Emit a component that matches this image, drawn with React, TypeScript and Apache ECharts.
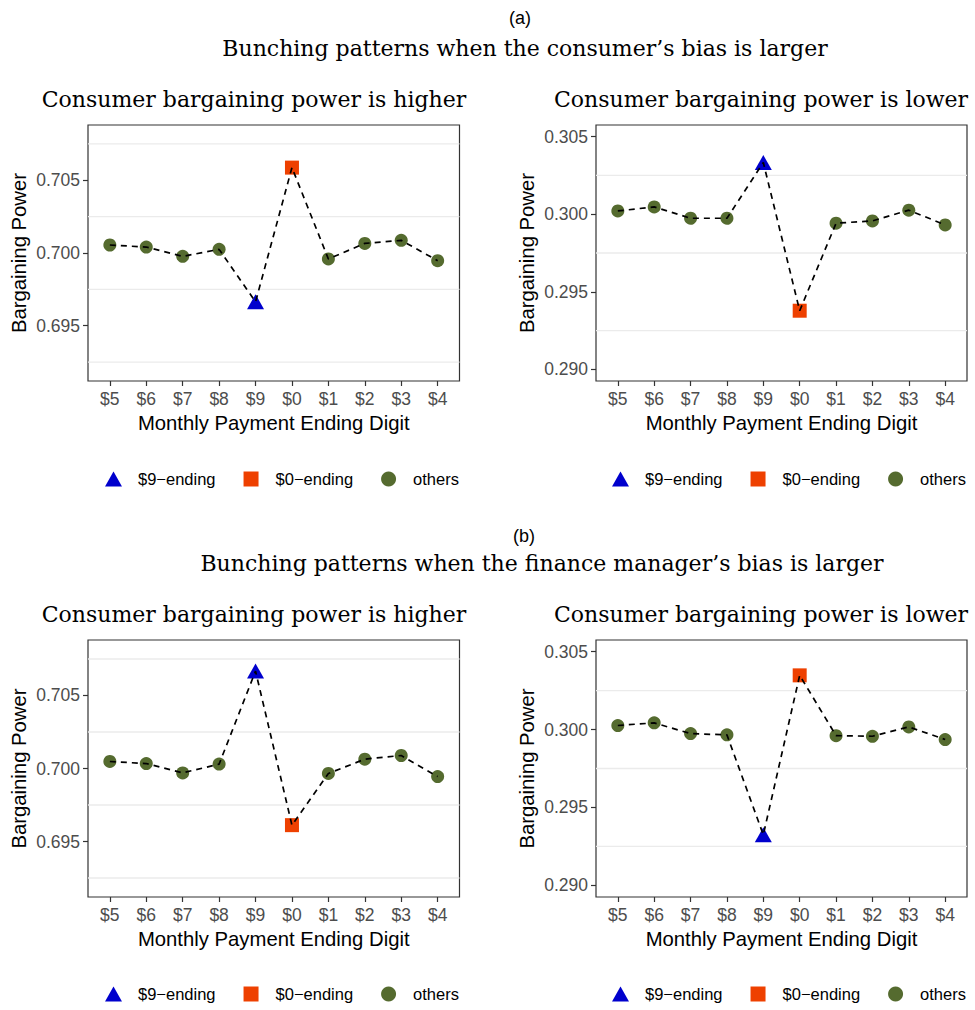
import React, { useEffect, useRef } from 'react';
import * as echarts from 'echarts';

// ---- data ----
const digits = ['$5', '$6', '$7', '$8', '$9', '$0', '$1', '$2', '$3', '$4'];
const consumerBiasHigherPower = [0.70055, 0.70041, 0.69977, 0.70025, 0.69664, 0.70587, 0.69959, 0.70066, 0.70087, 0.69947];
const consumerBiasLowerPower = [0.30021, 0.30047, 0.29974, 0.29974, 0.30333, 0.29378, 0.29942, 0.29957, 0.30026, 0.29931];
const managerBiasHigherPower = [0.70048, 0.70034, 0.6997, 0.7003, 0.70667, 0.69612, 0.69966, 0.70064, 0.70089, 0.69945];
const managerBiasLowerPower = [0.30026, 0.30043, 0.29974, 0.29966, 0.29324, 0.30348, 0.29961, 0.29957, 0.30017, 0.29936];
const highTicks = [0.695, 0.7, 0.705];
const lowTicks = [0.29, 0.295, 0.3, 0.305];
const highMinorGrid = [0.6925, 0.6975, 0.7025, 0.7075];
const lowMinorGrid = [0.2925, 0.2975, 0.3025];
const highLimits = [0.6912, 0.7088];
const lowLimits = [0.28925, 0.30575];
const xLimits = [-0.6, 9.6];
const groupNames = ['$9\u2212ending', '$0\u2212ending', 'others'];
const groupColors = ['#0000CD', '#EE4000', '#556B2F'];
const sectionLabels = ['(a)', '(b)'];
const sectionTitles = [
  'Bunching patterns when the consumer\u2019s bias is larger',
  'Bunching patterns when the finance manager\u2019s bias is larger',
];
const panelTitles = ['Consumer bargaining power is higher', 'Consumer bargaining power is lower'];
const yTitle = 'Bargaining Power';
const xTitle = 'Monthly Payment Ending Digit';

const SANS = '"Liberation Sans", Arial, Helvetica, sans-serif';
const SERIF = '"DejaVu Serif", serif';

const panels = [
  { values: consumerBiasHigherPower, ticks: highTicks, minor: highMinorGrid, limits: highLimits, left: 88, top: 125, width: 371.5, height: 256, legendLeft: 100, legendTop: 465.5 },
  { values: consumerBiasLowerPower, ticks: lowTicks, minor: lowMinorGrid, limits: lowLimits, left: 596, top: 125, width: 371, height: 256, legendLeft: 607, legendTop: 465.5 },
  { values: managerBiasHigherPower, ticks: highTicks, minor: highMinorGrid, limits: highLimits, left: 88, top: 640, width: 371.5, height: 257, legendLeft: 100, legendTop: 980.5 },
  { values: managerBiasLowerPower, ticks: lowTicks, minor: lowMinorGrid, limits: lowLimits, left: 596, top: 640, width: 371, height: 257, legendLeft: 607, legendTop: 980.5 },
];

function buildOption() {
  const idx9 = digits.indexOf('$9');
  const idx0 = digits.indexOf('$0');
  const tickIdx = digits.map((_, i) => i);
  const grid: any[] = [];
  const xAxis: any[] = [];
  const yAxis: any[] = [];
  const series: any[] = [];
  const legend: any[] = [];

  panels.forEach((p, k) => {
    grid.push({
      left: p.left, top: p.top, width: p.width, height: p.height,
      show: true, borderColor: '#333333', borderWidth: 1.2, backgroundColor: 'transparent',
    });
    xAxis.push({
      type: 'value', gridIndex: k, min: xLimits[0], max: xLimits[1],
      axisLine: { show: false, onZero: false },
      axisTick: { show: true, customValues: tickIdx, length: 5, lineStyle: { color: '#333333', width: 1.2 } },
      axisLabel: {
        customValues: tickIdx, formatter: (v: number) => digits[Math.round(v)],
        color: '#4D4D4D', fontSize: 17.5, fontFamily: SANS, margin: 9,
      },
      splitLine: { show: false },
      name: xTitle, nameLocation: 'middle', nameGap: 32,
      nameTextStyle: { fontSize: 20.3, color: '#000', fontFamily: SANS },
    });
    yAxis.push({
      type: 'value', gridIndex: k, min: p.limits[0], max: p.limits[1],
      axisLine: { show: false, onZero: false },
      axisTick: { show: true, customValues: p.ticks, length: 5, lineStyle: { color: '#333333', width: 1.2 } },
      axisLabel: {
        customValues: p.ticks, formatter: (v: number) => v.toFixed(3),
        color: '#4D4D4D', fontSize: 17.5, fontFamily: SANS, margin: 8,
      },
      splitLine: { show: false },
      name: yTitle, nameLocation: 'middle', nameGap: 59, nameRotate: 90,
      nameTextStyle: { fontSize: 20.3, color: '#000', fontFamily: SANS },
    });
    // minor grid lines (one horizontal line per minor break, spanning the x extent)
    p.minor.forEach((y) => {
      series.push({
        type: 'line', xAxisIndex: k, yAxisIndex: k, z: 1, silent: true,
        symbol: 'none',
        lineStyle: { color: '#EBEBEB', width: 1.3, type: 'solid' },
        data: [[xLimits[0], y], [xLimits[1], y]],
      });
    });
    series.push({
      name: groupNames[0], type: 'scatter', xAxisIndex: k, yAxisIndex: k, z: 3,
      symbol: 'triangle', symbolSize: [17, 15],
      itemStyle: { color: groupColors[0], opacity: 1 },
      data: [[idx9, p.values[idx9]]],
    });
    series.push({
      name: groupNames[1], type: 'scatter', xAxisIndex: k, yAxisIndex: k, z: 3,
      symbol: 'rect', symbolSize: 14,
      itemStyle: { color: groupColors[1], opacity: 1 },
      data: [[idx0, p.values[idx0]]],
    });
    series.push({
      name: groupNames[2], type: 'scatter', xAxisIndex: k, yAxisIndex: k, z: 3,
      symbol: 'circle', symbolSize: 13,
      itemStyle: { color: groupColors[2], opacity: 1 },
      data: p.values.map((v, i) => [i, v]).filter((d) => d[0] !== idx9 && d[0] !== idx0),
    });
    series.push({
      type: 'line', xAxisIndex: k, yAxisIndex: k, z: 4, silent: true,
      symbol: 'none',
      lineStyle: { color: '#000', width: 1.7, type: [6, 5] },
      data: p.values.map((v, i) => [i, v]),
    });
    legend.push({
      left: p.legendLeft, top: p.legendTop, orient: 'horizontal',
      itemWidth: 17, itemHeight: 15, itemGap: 28, selectedMode: false,
      textStyle: { fontSize: 16.5, color: '#000', fontFamily: SANS, padding: [0, 0, 0, 11] },
      data: [
        { name: groupNames[0], icon: 'triangle' },
        { name: groupNames[1], icon: 'path://M0,0L10,0L10,10L0,10Z' },
        { name: groupNames[2], icon: 'circle' },
      ],
    });
  });

  const textEl = (text: string, x: number, y: number, font: string) => ({
    type: 'text', x, y, silent: true,
    style: { text, font, fill: '#000', textAlign: 'center', textVerticalAlign: 'middle' },
  });

  const graphic: any[] = [
    textEl(sectionLabels[0], 520, 18, `18px ${SANS}`),
    textEl(sectionTitles[0], 525, 48, `22px ${SERIF}`),
    textEl(panelTitles[0], 254, 99, `22px ${SERIF}`),
    textEl(panelTitles[1], 761, 99, `22px ${SERIF}`),
    textEl(sectionLabels[1], 524, 536, `18px ${SANS}`),
    textEl(sectionTitles[1], 542, 563, `22px ${SERIF}`),
    textEl(panelTitles[0], 254, 614, `22px ${SERIF}`),
    textEl(panelTitles[1], 761, 614, `22px ${SERIF}`),
  ];

  return {
    animation: false,
    backgroundColor: '#ffffff',
    grid, xAxis, yAxis, series, legend, graphic,
  };
}

export default function App() {
  const ref = useRef<HTMLDivElement>(null);
  useEffect(() => {
    document.body.style.margin = '0';
    if (!ref.current) return;
    const chart = echarts.init(ref.current, undefined, { renderer: 'svg' });
    chart.setOption(buildOption() as any);
    return () => chart.dispose();
  }, []);
  return <div ref={ref} style={{ width: 975, height: 1010 }} />;
}
